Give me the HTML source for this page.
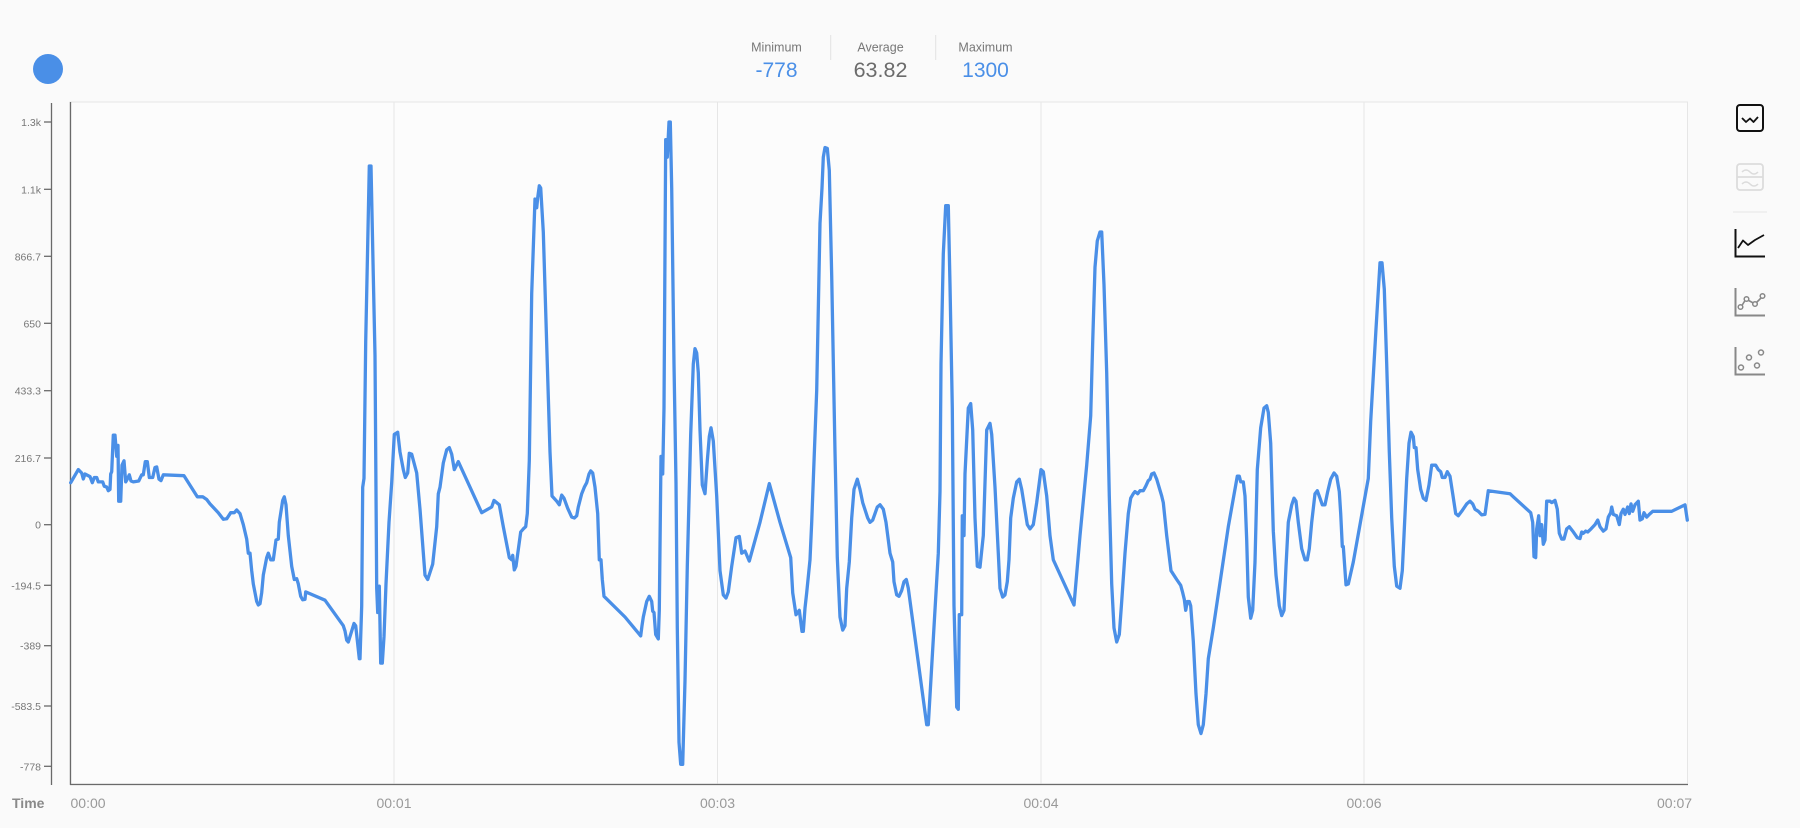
<!DOCTYPE html>
<html>
<head>
<meta charset="utf-8">
<style>
  html, body { margin:0; padding:0; background:#fafafa; }
  body { width:1800px; height:828px; overflow:hidden; font-family:"Liberation Sans", sans-serif; }
  svg { display:block; }
</style>
</head>
<body>
<svg width="1800" height="828" viewBox="0 0 1800 828" xmlns="http://www.w3.org/2000/svg">
  <rect x="0" y="0" width="1800" height="828" fill="#fafafa"/>
  <!-- legend dot -->
  <circle cx="48" cy="69" r="15" fill="#4a8fe7"/>

  <!-- stats -->
  <g font-family="Liberation Sans, sans-serif" text-anchor="middle">
    <text x="776.5" y="51.5" font-size="12.5" fill="#777">Minimum</text>
    <text x="776.5" y="77" font-size="21" fill="#4a8fe7">-778</text>
    <text x="880.5" y="51.5" font-size="12.5" fill="#777">Average</text>
    <text x="880.5" y="77" font-size="21.5" fill="#6b6b6b">63.82</text>
    <text x="985.5" y="51.5" font-size="12.5" fill="#777">Maximum</text>
    <text x="985.5" y="77" font-size="21" fill="#4a8fe7">1300</text>
  </g>
  <line x1="830.7" y1="35" x2="830.7" y2="60" stroke="#e2e2e2" stroke-width="1"/>
  <line x1="935.7" y1="35" x2="935.7" y2="60" stroke="#e2e2e2" stroke-width="1"/>

  <!-- plot area -->
  <rect x="70" y="102" width="1617.5" height="682" fill="#fcfcfc" stroke="#e6e6e6" stroke-width="1"/>
  <!-- gridlines -->
  <g stroke="#e6e6e6" stroke-width="1">
    <line x1="394" y1="102" x2="394" y2="784"/>
    <line x1="717.5" y1="102" x2="717.5" y2="784"/>
    <line x1="1041" y1="102" x2="1041" y2="784"/>
    <line x1="1364" y1="102" x2="1364" y2="784"/>
  </g>
  <!-- plot left & bottom borders -->
  <line x1="70.5" y1="102" x2="70.5" y2="785" stroke="#6a6a6a" stroke-width="1.3"/>
  <line x1="70" y1="784.5" x2="1688" y2="784.5" stroke="#6a6a6a" stroke-width="1.3"/>

  <!-- y axis -->
  <line x1="51.5" y1="103" x2="51.5" y2="785" stroke="#6a6a6a" stroke-width="1.3"/>
  <g stroke="#6a6a6a" stroke-width="1.3">
    <line x1="44" y1="122" x2="51" y2="122"/>
    <line x1="44" y1="189.3" x2="51" y2="189.3"/>
    <line x1="44" y1="256.3" x2="51" y2="256.3"/>
    <line x1="44" y1="323.3" x2="51" y2="323.3"/>
    <line x1="44" y1="390.7" x2="51" y2="390.7"/>
    <line x1="44" y1="458" x2="51" y2="458"/>
    <line x1="44" y1="524.7" x2="51" y2="524.7"/>
    <line x1="44" y1="585.3" x2="51" y2="585.3"/>
    <line x1="44" y1="645.7" x2="51" y2="645.7"/>
    <line x1="44" y1="706" x2="51" y2="706"/>
    <line x1="44" y1="766.3" x2="51" y2="766.3"/>
  </g>
  <g font-family="Liberation Sans, sans-serif" font-size="10.5" fill="#777" text-anchor="end">
    <text x="41" y="126">1.3k</text>
    <text x="41" y="193.3">1.1k</text>
    <text x="41" y="260.3">866.7</text>
    <text x="41" y="327.3">650</text>
    <text x="41" y="394.7">433.3</text>
    <text x="41" y="462">216.7</text>
    <text x="41" y="528.7">0</text>
    <text x="41" y="589.3">-194.5</text>
    <text x="41" y="649.7">-389</text>
    <text x="41" y="710">-583.5</text>
    <text x="41" y="770.3">-778</text>
  </g>

  <!-- x axis labels -->
  <text x="12" y="808" font-family="Liberation Sans, sans-serif" font-size="14" font-weight="bold" fill="#8a8a8a">Time</text>
  <g font-family="Liberation Sans, sans-serif" font-size="14" fill="#999">
    <text x="70.5" y="808">00:00</text>
    <text x="394" y="808" text-anchor="middle">00:01</text>
    <text x="717.5" y="808" text-anchor="middle">00:03</text>
    <text x="1041" y="808" text-anchor="middle">00:04</text>
    <text x="1364" y="808" text-anchor="middle">00:06</text>
    <text x="1657" y="808">00:07</text>
  </g>

  <!-- series -->
  <polyline fill="none" stroke="#4a8fe7" stroke-width="3.3" stroke-linejoin="round" stroke-linecap="round" points="
70.7,482.7 78.3,469.6 81.7,473 83.3,479 85,474 90,476.6 92.3,482.7 94.3,477.5 96.7,477.5 98.3,481.9 102.7,481.9 104.3,486.3 106.7,487 108.3,490.7 110,489.4 110.7,474 111.7,471.7 113.3,435.2 115,435.2 116.7,456.4 118,445.4 118.7,501.2 120.7,501.2 122,465.2 124,460.8 125.7,481.9 127.7,478.4 129.3,474.8 131,481 133.3,481.9 138.7,481 141.7,474.8 143.3,474.8 145.3,461.6 147.3,461.6 149.3,477.5 152.7,477.5 155,467.4 156.7,466.9 159,479.2 161,480.6 163.3,474.8 184,475.7 197.3,496.8 202.7,496.8 206.7,499.5 210,503.9 218.3,512.7 223.3,519.3 226.7,518.8 230.7,512.7 234.3,512.7 236.7,510 240,513.6 243.3,524.6 246.7,539.1 248.3,553.2 250,553.2 251.7,570.7 253.3,583.9 256.7,601.5 258.3,605 260,603.7 261.7,592.7 263.3,575.1 266.7,557.6 268.3,553.2 270.7,559.8 273.3,559.8 276,540 278.3,539.1 279.3,522.3 282.7,500.4 284.3,496.8 286,504.8 288.3,535.6 291.7,566.3 294.3,579.5 296.7,578.7 298.3,583.9 300.7,596.3 302.7,599.8 305,599.4 305.7,591.9 325,600.2 343.3,625.7 345,631 346.7,640.2 348.3,642 354,623.5 355.7,625.7 359.3,658.7 360,658.7 361.7,605.9 362.7,487.2 364,478.4 365.7,342 369.3,166 371,166 373.3,276 375,355.2 376.7,588.3 377.7,612.5 379.3,586.1 380.7,663.1 382.3,663.1 384,636.7 386,583.9 389,522.3 391.7,482.7 394.3,434.4 397.7,432.2 400,452 403.3,469.6 405.3,477.5 407.7,473 409.3,453.3 411.7,454.2 416.7,473 420,509.2 425,575.1 427.7,579.5 432.7,564.1 436.7,526.7 438.3,493.8 440,487.2 443.3,463 446.7,449.8 449.3,447.6 451.7,454.2 454.3,469.6 458.3,461.6
481.7,512.7 491.7,507 494,500.4 499.3,504.8 503.3,526.7 509.3,557.6 511.7,559.8 512.7,555.3 514.3,569.9 516,566.3 520.7,532 523.3,528.9 525.7,526.7 527.3,513.6 529.3,460.8 531.7,293.6 535,199 536.7,207.8 537.7,197.7 539.3,185.8 540.7,188 543.3,232 547.3,364 550,452 552,496 556.7,501.2 559.3,504.8 561.7,495.1 564,498.2 567.7,508.3 571.7,517.1 574.3,518 576.7,515.8 578.3,507 581.7,493.7 584.3,487.2 586.7,482.7 589,474 590.7,470.9 592.7,473 595,487.2 597.7,513.6 599.3,559.8 601,559.8 602.3,579.5 604,596.3 625,617 640.7,635.9 642,625.7 643.3,617 646.7,601.5 649.3,596.3 651.7,601.5 652.7,611.2 654,612.5 655.7,634.5 658.3,638.9 659.3,610.3 661,456.4 662.7,474 664,408 665.7,139.6 666.7,139.6 667.3,157.2 669,122 670.3,122 671.7,188 674,364 676,482.7 677.3,627.9 679,742.3 680.7,764.3 682.7,764.3 685,680.7 687.3,566.3 690.7,434.4 693.3,364 695,348.6 696.7,353 698.3,372.8 700,430 702.3,485 705,493.7 707.3,460.8 709.3,436.6 711,427.8 713.3,441 716.7,496 720,570.7 723.3,594.9 726,598 728.3,591.9 731.7,566.3 736,537.7 739.3,536.4 741.7,553.2 745,551 749.3,561.1 760,522.3 769.3,483.6 780,522.3 790.7,557.6 792.7,592.7 796,614.7 799.3,610.3 802,631.4 803.3,631.4 805,608.1 806.7,592.7 810,559.8 811.7,522.3 816.7,390.4 820,223.2 822,188 823.3,157.2 825,147.5 827.3,148.4 829.3,170.4 831.7,276 835,452 837.3,557.6 840,617 842.7,630.1 845,625.7 846.7,588.3 849.3,562 851.7,518 854,489.4 857.3,479.2 860,489.4 862.7,502.6 867.7,518 870,522.3 872.7,520.1 875,513.6 877.3,507 880,504.8 883.3,509.2 886,522.3 888.3,540 890,553.2 892.7,562 894,581.7 896.7,594.9 899,596.3 901.7,590.5 904,581.7 906.3,579.5 908.3,588.3 926.7,724.7 928.3,724.7 938.3,553.2 940,491.6 941,364 943.3,254 945.7,205.6 948.3,205.6 950,284.8 952.3,408 954,605.9 956.7,707.1 958.3,709.3 959.3,614.7 961.7,614.7 962.3,515.8 964,535.6 965,474 968.3,408 970.7,403.6 972.7,430 975,518 977.3,566.3 980,567.2 983.3,535.6 986.7,430 990,423.4 991.7,434.4 995,487.2 998.3,553.2 1000,588.3 1002.7,597.1 1005,594.9 1007.3,581.7 1009,559.8 1010.7,518 1013.3,498.2 1016.7,481.9 1019.3,479.2 1021.7,489.4 1027.3,524.6 1030,528.9 1033.3,524.6 1036.7,502.6 1041,469.6 1043.3,471.7 1046.7,496 1050,535.6 1053.3,559.8 1074,605 1080,535.6 1086.7,465.2 1090.7,415.9 1092.7,342 1095,267.2 1097.3,240.8 1100,232 1101.7,232 1104,284.8 1106.7,372.8 1109.3,496 1111.7,583.9 1114,627.9 1116.7,642 1119.3,634.5 1121.7,601.5 1125,553.2 1128.3,513.6 1130.7,498.2 1133.3,493.7 1135,491.6 1137.7,493.7 1140,490.7 1143.3,490.7 1145.7,486.3 1148.3,480.6 1150,479.2 1151.7,474 1154,473 1156.7,479.2 1161.7,496 1163.3,502.6 1166.7,535.6 1171,570.7 1176.7,579.5 1180.7,585.3 1182.7,592.7 1184.3,599.4 1185.7,610.3 1187.3,601.5 1189.3,601.5 1190.7,605.9 1193.3,641.1 1196,693.9 1198.3,724.7 1201,733.5 1203.3,724.7 1206,693.9 1208.3,658.7 1213.3,627.9 1228.3,526.7 1237.3,476.2 1239.3,476.2 1240.7,481.9 1243.3,481.9 1245,496 1246.7,540 1248.3,597.1 1250.7,618.2 1252.7,610.3 1255,562 1257.3,469.6 1260.7,427.8 1264,408 1266.7,405.8 1268.3,412.4 1270.7,443.2 1273.3,531.1 1276,575.1 1279.3,605.9 1281.7,615.6 1284,610.3 1286,566.3 1288.3,522.3 1291.7,505 1294,498.2 1296,501.2 1298.3,522.3
1301.7,548.7 1305,559.8 1307.3,559.8 1309.3,548.7 1311.7,522.3 1315,493.7 1317.3,490.7 1320,498.2 1322.3,504.8 1325,504.8 1327.7,491.6 1330.7,479.2 1334,473 1336.7,476.2 1339.3,491.6 1340.7,513.6 1342.3,546.5 1343.3,546.5 1346,584.8 1348.3,584 1353.3,562 1366.7,487.2 1368.3,478.4 1370.7,421.2 1376,328.8 1380,262.8 1382,262.8 1384.3,289.2 1386.7,364 1389.3,452 1391.7,518 1394.3,566.3 1396.7,586.1 1400,588.3 1402.3,570.7 1404,535.6 1406.7,478.4 1409,443.2 1411,432.2 1413.3,436.6 1414.3,447.6 1416,447.6 1417.7,469.6 1420.7,489.4 1423.3,498.2 1426,500.4 1429,485 1431.7,465.2 1435.7,465.2 1438.3,469.6 1440.7,471.7 1442.3,477.5 1445,477.5 1447.3,471.7 1450,476.2 1452.7,493.7 1455.7,513.6 1458.3,515.8 1461.7,511.3 1466.7,503.9 1470,501.2 1472.7,503.9 1475,509.2 1478.3,511.3 1481.7,514.9 1485,514.4 1488.3,490.7 1510,493.7 1513.3,496.8 1530.7,512.7 1532.7,522.3 1534,556.7 1535.7,557.6 1536.7,528.9 1538.7,515.8 1540,535.6 1541.7,524.6 1543.3,544.3 1545,540 1546.7,501.2 1550,501.2 1551.7,502.6 1555,500.4 1557.3,509.2 1559.3,533.3 1561.7,539.1 1564,539.1 1566.7,528.9 1569.3,526.7 1572.7,531.1 1577.3,537.7 1580,538.6 1581.7,532 1583.3,533.3 1585.7,531.1 1587.7,532 1591,528.9 1595,524.6 1597.7,520.1 1600,526.7 1603.3,531.1 1606,528.9 1608.3,517.1 1610.7,512.7 1611.7,507 1613.3,514.4 1616.7,515.8 1619.3,524.6 1621,513.6 1623.3,509.2 1625,514.4 1627.7,507 1629.3,513.6 1631,503.9 1632.7,511.3 1635,504.8 1638.3,501.2 1640,520.1 1642.3,518.8 1644,512.7 1646.7,517.1 1649.3,514.4 1652.7,511.3 1671.7,511.3 1685,504.8 1687.3,520.1"/>

  <!-- right toolbar icons -->
  <!-- icon 1: boxed line -->
  <rect x="1737" y="105" width="26" height="26" rx="3" fill="none" stroke="#111" stroke-width="2"/>
  <polyline points="1742,118 1746,122 1750,118.5 1753.5,122 1758,117" fill="none" stroke="#111" stroke-width="1.8" stroke-linejoin="round"/>
  <!-- icon 2: stacked boxes (light) -->
  <rect x="1737" y="164" width="26" height="26" rx="3" fill="none" stroke="#dcdcdc" stroke-width="1.8"/>
  <line x1="1737" y1="177" x2="1763" y2="177" stroke="#dcdcdc" stroke-width="1.8"/>
  <path d="M1742,172 q4,-4 8,0 t8,0" fill="none" stroke="#dcdcdc" stroke-width="1.5"/>
  <path d="M1742,184 q4,-4 8,0 t8,0" fill="none" stroke="#dcdcdc" stroke-width="1.5"/>
  <!-- separator -->
  <line x1="1733" y1="212" x2="1767" y2="212" stroke="#e6e6e6" stroke-width="1"/>
  <!-- icon 3: line chart (black) -->
  <polyline points="1735.5,229 1735.5,256.5 1765,256.5" fill="none" stroke="#111" stroke-width="2"/>
  <polyline points="1738,248 1743,240.5 1748,245 1755,240 1764,235" fill="none" stroke="#111" stroke-width="1.8" stroke-linejoin="round"/>
  <!-- icon 4: line with points (gray) -->
  <polyline points="1735.5,288 1735.5,315.5 1765,315.5" fill="none" stroke="#888" stroke-width="2"/>
  <polyline points="1741,307 1746,299 1755,304 1763,296" fill="none" stroke="#888" stroke-width="1.6"/>
  <circle cx="1740.5" cy="307" r="2.3" fill="#fafafa" stroke="#888" stroke-width="1.5"/>
  <circle cx="1746.5" cy="299" r="2.3" fill="#fafafa" stroke="#888" stroke-width="1.5"/>
  <circle cx="1755" cy="304" r="2.3" fill="#fafafa" stroke="#888" stroke-width="1.5"/>
  <circle cx="1762.5" cy="296" r="2.3" fill="#fafafa" stroke="#888" stroke-width="1.5"/>
  <!-- icon 5: scatter (gray) -->
  <polyline points="1735.5,347 1735.5,374.5 1765,374.5" fill="none" stroke="#888" stroke-width="2"/>
  <circle cx="1741" cy="367.5" r="2.5" fill="none" stroke="#888" stroke-width="1.5"/>
  <circle cx="1749" cy="357.5" r="2.5" fill="none" stroke="#888" stroke-width="1.5"/>
  <circle cx="1757" cy="365.5" r="2.5" fill="none" stroke="#888" stroke-width="1.5"/>
  <circle cx="1761" cy="352.5" r="2.5" fill="none" stroke="#888" stroke-width="1.5"/>
</svg>
</body>
</html>
